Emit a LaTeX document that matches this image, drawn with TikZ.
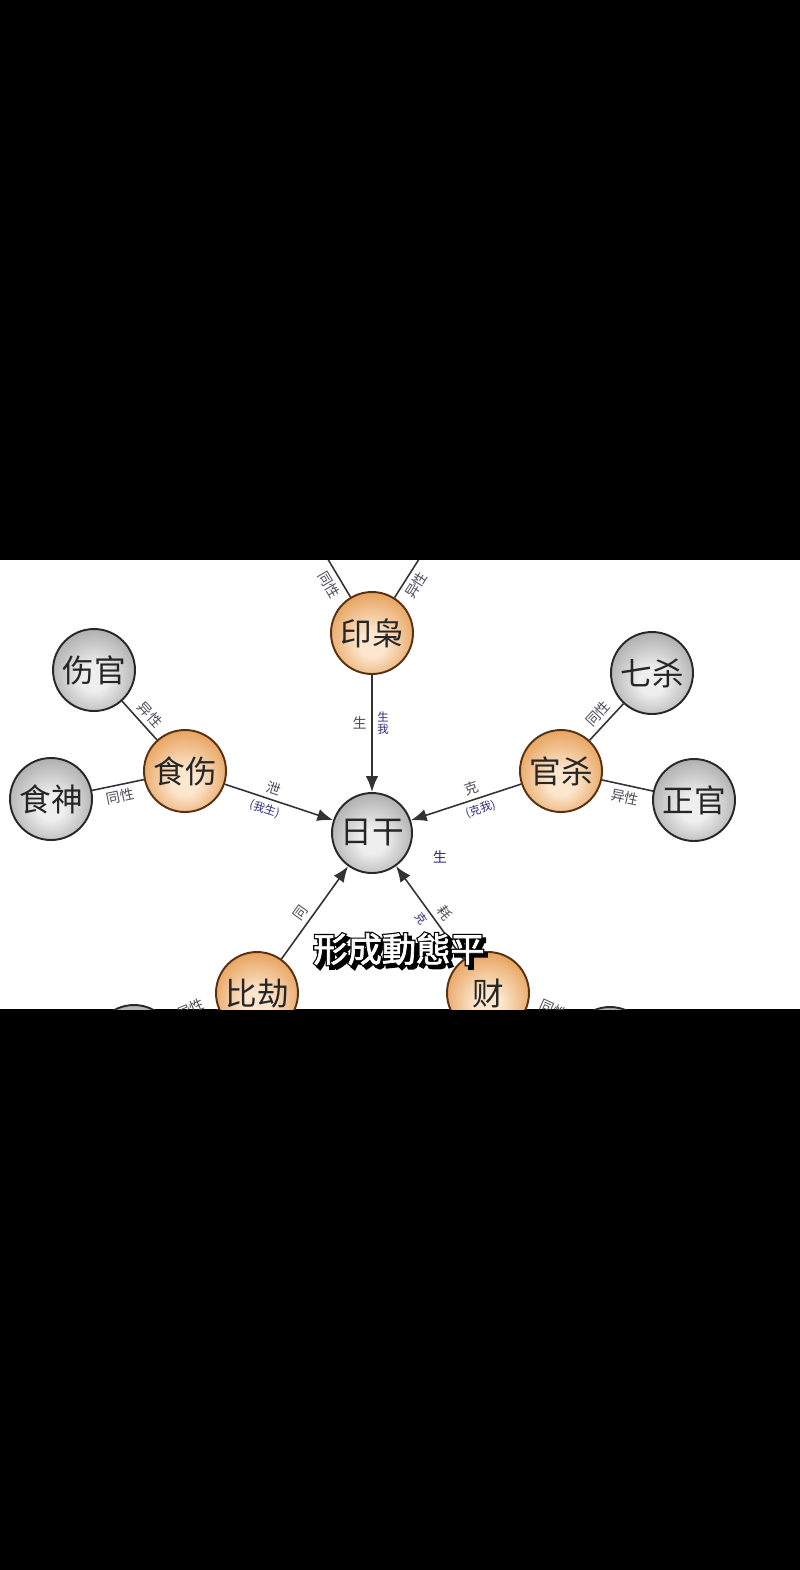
\documentclass[tikz,border=0pt]{standalone}
\usepackage{fontspec}
\setmainfont{Noto Sans CJK SC}
\newfontfamily\capfont[FakeBold=2]{Noto Sans CJK SC}
\newfontfamily\capedgefont[FakeBold=9]{Noto Sans CJK SC}
\usetikzlibrary{arrows.meta}

\definecolor{orangedark}{RGB}{200,116,40}
\definecolor{orangemid}{RGB}{230,158,86}
\definecolor{orangelite}{RGB}{252,230,206}
\definecolor{orangeline}{RGB}{88,48,18}
\definecolor{graydark}{RGB}{96,96,96}
\definecolor{graymid}{RGB}{168,168,168}
\definecolor{graylite}{RGB}{238,238,238}
\definecolor{grayline}{RGB}{40,40,40}
\definecolor{inkgray}{RGB}{78,78,92}
\definecolor{inkblue}{RGB}{46,44,122}

\pgfdeclareradialshading{orangeball}{\pgfpoint{0bp}{-8bp}}{color(0bp)=(orangelite); color(8bp)=(orangelite); color(30bp)=(orangemid); color(50bp)=(orangedark)}
\pgfdeclareradialshading{grayball}{\pgfpoint{0bp}{-6bp}}{color(0bp)=(graylite); color(8bp)=(graylite); color(30bp)=(graymid); color(50bp)=(graydark)}

\begin{document}
\begin{tikzpicture}[x=0.02cm, y=-0.02cm,
  ball/.style={circle, minimum size=1.64cm, inner sep=0pt, line width=1.1pt,
    font=\fontsize{18}{20}\selectfont, text=black!85},
  yball/.style={ball, draw=orangeline, shading=orangeball},
  gball/.style={ball, draw=grayline, shading=grayball},
  link/.style={line width=0.9pt, draw=black!80},
  flow/.style={link, -{Latex[length=9pt,width=7pt]}},
  lbl/.style={font=\fontsize{8}{9}\selectfont, text=inkgray, inner sep=2.6pt},
  bluelbl/.style={font=\fontsize{6.5}{7}\selectfont, text=inkblue, inner sep=2.6pt}]
\useasboundingbox (0,0) rectangle (800,1570);
% Screen and page
\fill[black] (0,0) rectangle (800,1570);
\fill[white] (0,560) rectangle (800,1009);
\begin{scope}
\clip (0,560) rectangle (800,1009);
% Draw balls
\node[gball, minimum size=1.6cm] (rigan) at (372,833) {日干};
\node[yball] (yinxiao) at (372,633) {印枭};
\node[yball] (shishang) at (185,771) {食伤};
\node[yball] (guansha) at (561,771) {官杀};
\node[yball] (bijie) at (257,993) {比劫};
\node[yball] (cai) at (488,993) {财};
\node[gball] (shangguan) at (94,670) {伤官};
\node[gball] (shishen) at (51,799) {食神};
\node[gball] (qisha) at (652,673) {七杀};
\node[gball] (zhengguan) at (694,800) {正官};
\node[gball] (jiecai) at (134,1046) {};
\node[gball] (piancai) at (610,1048) {};
\coordinate (yinL) at (326,556);
\coordinate (yinR) at (421,556);
% Draw same/other links
\draw[link] (yinxiao) -- node[lbl, sloped, below, pos=.45] {同性} (yinL);
\draw[link] (yinxiao) -- node[lbl, sloped, below, pos=.45] {异性} (yinR);
\draw[link] (shangguan) -- node[lbl, sloped, above, pos=.55] {异性} (shishang);
\draw[link] (shishen) -- node[lbl, sloped, below] {同性} (shishang);
\draw[link] (qisha) -- node[lbl, sloped, above] {同性} (guansha);
\draw[link] (guansha) -- node[lbl, sloped, below] {异性} (zhengguan);
\draw[link] (bijie) -- node[lbl, sloped, above] {异性} (jiecai);
\draw[link] (cai) -- node[lbl, sloped, above] {同性} (piancai);
% Draw arrows into the day master
\draw[flow] (yinxiao) -- node[lbl, left, pos=.41] {生}
  node[bluelbl, right, pos=.41, align=center] {生\\我} (rigan);
\draw[flow] (shishang) -- node[lbl, sloped, above, pos=.42] {泄}
  node[bluelbl, sloped, below, pos=.4] {(我生)} (rigan);
\draw[flow] (guansha) -- node[lbl, sloped, above, pos=.42] {克}
  node[bluelbl, sloped, below, pos=.4] {(克我)} (rigan);
\draw[flow] (bijie) -- node[lbl, sloped, above, pos=.42] {同} (rigan);
\draw[flow] (cai) -- node[lbl, sloped, above, pos=.42] {耗}
  node[bluelbl, sloped, below, pos=.5] {克} (rigan);
\node[bluelbl, font=\fontsize{8}{9}\selectfont] (sheng) at (440,857) {生};
\end{scope}
% Caption
\node[font=\capedgefont\fontsize{19.5}{20}\selectfont, text=black] (capshade) at (402.5,952.5) {形成動態平};
\node[font=\capedgefont\fontsize{19.5}{20}\selectfont, text=black] (capedge) at (399,949) {形成動態平};
\node[font=\capfont\fontsize{19.5}{20}\selectfont, text=white] (caption) at (399,949) {形成動態平};
\end{tikzpicture}
\end{document}
